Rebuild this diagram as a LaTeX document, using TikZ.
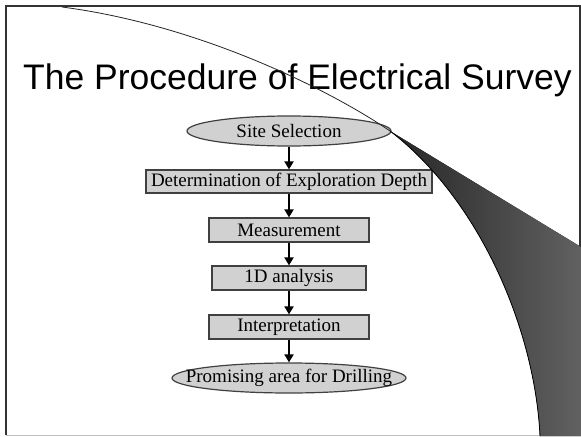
\documentclass[tikz,border=0pt]{standalone}
\usepackage{fontspec}
\setmainfont{Liberation Serif}
\newfontfamily\titlefont{Liberation Sans}
\usetikzlibrary{arrows.meta,positioning,shapes.geometric}

\begin{document}
\begin{tikzpicture}[
  x=1pt, y=-1pt,
  stage/.style={rectangle, draw=black!75, fill=black!18, line width=1.2pt,
                inner sep=0pt, minimum height=24pt, font=\fontsize{19}{22}\selectfont},
  endpoint/.style={ellipse, draw=black!75, fill=black!18, line width=1.2pt,
                   inner xsep=-30pt, inner ysep=0pt, minimum height=30pt,
                   font=\fontsize{19}{22}\selectfont},
  flow/.style={line width=1.8pt, -{Triangle[length=8pt,width=9pt]}},
]
  % page and frame
  \fill[white] (0,0) rectangle (581,436);
  \draw[black!80, line width=2pt] (6,435) -- (6,6) -- (580,6) -- (580,435);
  \draw[black!25, line width=1pt] (6,435) -- (580,435);

  % title
  \node[anchor=base west, inner sep=0pt, font=\titlefont\fontsize{35.5}{38}\selectfont]
    (title) at (23,89) {The Procedure of Electrical Survey};

  % flow chart
  \node[endpoint, minimum width=204pt] (site)   at (289,131) {Site Selection};
  \node[stage, minimum width=286pt, minimum height=23pt] (depth) at (289,181.5) {Determination of Exploration Depth};
  \node[stage, minimum width=160pt] (meas)   at (289,230) {Measurement};
  \node[stage, minimum width=154pt] (oned)   at (289,278) {1D analysis};
  \node[stage, minimum width=160pt] (interp) at (289,327) {Interpretation};
  \node[endpoint, minimum width=234pt] (drill) at (289,378) {Promising area for Drilling};

  \draw[flow] (site) -- (depth);
  \draw[flow] (depth) -- (meas);
  \draw[flow] (meas) -- (oned);
  \draw[flow] (oned) -- (interp);
  \draw[flow] (interp) -- (drill);

  % page curl
  \draw[black!85, line width=0.8pt] (62,7) .. controls (200,25) and (330,90) .. (390,131);
  \fill[left color=black!85, right color=black!62]
    (390,131) -- (581,247) -- (581,436) -- (540,436)
    .. controls (535,330) and (480,200) .. (390,131) -- cycle;
  \draw[black, line width=0.8pt] (540,436) .. controls (535,330) and (480,200) .. (390,131);
\end{tikzpicture}
\end{document}
